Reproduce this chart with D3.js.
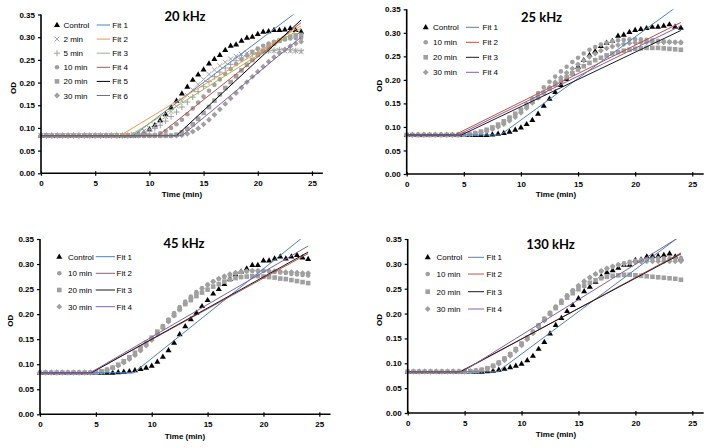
<!DOCTYPE html>
<html><head><meta charset="utf-8">
<script src="https://cdn.jsdelivr.net/npm/d3@7"></script>
<style>
body{margin:0;background:#fff;}
svg{display:block;font-family:"Liberation Sans",Arial,sans-serif;}
</style></head>
<body><svg id="chart" width="713" height="448"></svg>
<script>
// ---- data ----
const time = [0,0.5,1,1.5,2,2.5,3,3.5,4,4.5,5,5.5,6,6.5,7,7.5,8,8.5,9,9.5,10,10.5,11,11.5,12,12.5,13,13.5,14,14.5,15,15.5,16,16.5,17,17.5,18,18.5,19,19.5,20,20.5,21,21.5,22,22.5,23,23.5,24];
const xTicks = [0,5,10,15,20,25];
const yTicks = [0,0.05,0.10,0.15,0.20,0.25,0.30,0.35];
const titles = ["20 kHz","25 kHz","45 kHz","130 kHz"];
const names20 = ["Control","2 min","5 min","10 min","20 min","30 min"];
const namesOther = ["Control","10 min","20 min","30 min"];
const fitNames20 = ["Fit 1","Fit 2","Fit 3","Fit 4","Fit 5","Fit 6"];
const fitNamesOther = ["Fit 1","Fit 2","Fit 3","Fit 4"];

// 20 kHz
const control20 = [0.083,0.083,0.083,0.083,0.083,0.083,0.083,0.083,0.083,0.083,0.083,0.083,0.083,0.083,0.083,0.083,0.083,0.083,
 0.086,0.090,0.097,0.106,0.117,0.130,0.145,0.160,0.176,0.191,0.206,0.218,0.229,0.242,0.252,0.261,0.272,0.281,0.284,0.292,0.299,0.301,0.307,0.312,0.313,0.316,0.316,0.317,0.320,0.316,0.312];
const min2_20 = [0.083,0.083,0.083,0.083,0.083,0.083,0.083,0.083,0.083,0.083,0.083,0.083,0.083,0.083,0.083,0.083,
 0.084,0.086,0.089,0.093,0.099,0.106,0.115,0.125,0.136,0.148,0.160,0.172,0.184,0.196,0.207,0.218,0.228,0.237,0.245,0.252,0.258,0.262,0.265,0.267,0.268,0.270,0.270,0.270,0.271,0.270,0.270,0.270,0.268];
const min5_20 = [0.083,0.083,0.083,0.083,0.083,0.083,0.083,0.083,0.083,0.083,0.083,0.083,0.083,0.083,0.083,0.083,0.083,
 0.084,0.086,0.089,0.093,0.099,0.106,0.115,0.125,0.135,0.146,0.157,0.168,0.180,0.191,0.202,0.213,0.223,0.232,0.240,0.248,0.254,0.259,0.263,0.266,0.268,0.270,0.271,0.272,0.272,0.272,0.270,0.270];
const min10_20 = [0.083,0.083,0.083,0.083,0.083,0.083,0.083,0.083,0.083,0.083,0.083,0.083,0.083,0.083,0.083,0.083,0.083,0.083,0.083,0.083,0.083,
 0.085,0.088,0.093,0.100,0.108,0.118,0.130,0.143,0.156,0.169,0.182,0.195,0.207,0.219,0.230,0.241,0.251,0.260,0.268,0.275,0.281,0.286,0.290,0.293,0.295,0.297,0.298,0.298];
const min20_20 = [0.083,0.083,0.083,0.083,0.083,0.083,0.083,0.083,0.083,0.083,0.083,0.083,0.083,0.083,0.083,0.083,0.083,0.083,0.083,0.083,0.083,0.083,0.083,0.083,0.083,
 0.085,0.090,0.098,0.108,0.120,0.133,0.146,0.160,0.174,0.188,0.201,0.214,0.227,0.239,0.250,0.261,0.270,0.279,0.286,0.292,0.297,0.301,0.304,0.305];
const min30_20 = [0.083,0.083,0.083,0.083,0.083,0.083,0.083,0.083,0.083,0.083,0.083,0.083,0.083,0.083,0.083,0.083,0.083,0.083,0.083,0.083,0.083,0.083,0.083,0.083,0.083,0.083,
 0.084,0.087,0.092,0.099,0.108,0.118,0.129,0.141,0.153,0.165,0.177,0.189,0.201,0.213,0.224,0.235,0.246,0.256,0.265,0.273,0.280,0.286,0.290];
const fitLag20 = [8.5,7.3,8.2,10.8,12.5,13.0];
const fitEnd20 = [0.363,0.325,0.320,0.332,0.338,0.300];

// 25 kHz
const control25 = [0.083,0.083,0.083,0.083,0.083,0.083,0.083,0.083,0.083,0.083,0.083,0.083,0.083,0.083,
 0.083,0.084,0.0855,0.087,0.090,0.094,0.099,0.106,0.115,0.128,0.145,0.160,0.174,0.189,0.202,0.214,0.228,0.242,0.253,0.261,0.272,0.279,0.283,0.294,0.296,0.302,0.306,0.308,0.310,0.313,0.313,0.315,0.318,0.313,0.311];
const min10_25 = [0.083,0.083,0.083,0.083,0.083,0.083,0.083,0.083,0.083,0.083,
 0.084,0.085,0.087,0.089,0.092,0.097,0.103,0.110,0.118,0.127,0.137,0.148,0.160,0.172,0.184,0.196,0.207,0.218,0.228,0.238,0.247,0.256,0.264,0.270,0.275,0.279,0.282,0.284,0.285,0.286,0.286,0.286,0.285,0.284,0.283,0.282,0.281,0.280,0.279];
const min20_25 = [0.083,0.083,0.083,0.083,0.083,0.083,0.083,0.083,0.083,0.083,
 0.084,0.085,0.087,0.090,0.094,0.099,0.105,0.112,0.120,0.128,0.136,0.145,0.154,0.163,0.172,0.181,0.190,0.198,0.206,0.214,0.222,0.229,0.236,0.242,0.247,0.252,0.256,0.259,0.262,0.264,0.266,0.267,0.268,0.268,0.268,0.267,0.266,0.265,0.264];
const min30_25 = [0.083,0.083,0.083,0.083,0.083,0.083,0.083,0.083,0.083,0.083,
 0.084,0.085,0.086,0.088,0.091,0.095,0.100,0.106,0.113,0.121,0.130,0.140,0.151,0.162,0.173,0.184,0.195,0.205,0.215,0.224,0.233,0.241,0.249,0.256,0.262,0.267,0.271,0.274,0.276,0.278,0.279,0.280,0.280,0.280,0.280,0.280,0.280,0.280,0.280];
const fitLag25 = [8.2,4.2,4.8,4.5];
const fitEnd25 = [0.362,0.322,0.305,0.315];

// 45 kHz
const control45 = [0.083,0.083,0.083,0.083,0.083,0.083,0.083,0.083,0.083,0.083,0.083,0.083,0.083,
 0.083,0.084,0.085,0.086,0.088,0.0905,0.093,0.097,0.105,0.115,0.128,0.143,0.160,0.176,0.190,0.203,0.216,0.228,0.241,0.250,0.260,0.270,0.279,0.285,0.291,0.298,0.298,0.307,0.307,0.311,0.315,0.311,0.315,0.318,0.313,0.310];
const min10_45 = [0.083,0.083,0.083,0.083,0.083,0.083,0.083,0.083,0.083,0.083,
 0.084,0.086,0.089,0.093,0.098,0.104,0.111,0.119,0.128,0.139,0.151,0.163,0.176,0.189,0.202,0.214,0.225,0.235,0.244,0.252,0.259,0.265,0.270,0.274,0.278,0.281,0.284,0.285,0.286,0.286,0.286,0.285,0.284,0.283,0.282,0.280,0.279,0.278,0.277];
const min20_45 = [0.083,0.083,0.083,0.083,0.083,0.083,0.083,0.083,0.083,0.083,
 0.084,0.086,0.089,0.093,0.099,0.106,0.114,0.123,0.133,0.143,0.153,0.165,0.175,0.187,0.198,0.210,0.220,0.228,0.236,0.243,0.249,0.255,0.260,0.265,0.269,0.272,0.274,0.275,0.276,0.276,0.275,0.274,0.273,0.271,0.270,0.268,0.266,0.264,0.262];
const min30_45 = [0.083,0.083,0.083,0.083,0.083,0.083,0.083,0.083,0.083,0.083,
 0.084,0.085,0.088,0.092,0.097,0.103,0.110,0.118,0.127,0.137,0.148,0.160,0.172,0.185,0.197,0.209,0.221,0.232,0.242,0.251,0.258,0.265,0.271,0.276,0.280,0.283,0.285,0.286,0.287,0.287,0.287,0.286,0.286,0.285,0.284,0.284,0.283,0.282,0.282];
const fitLag45 = [8.4,4.6,4.6,4.5];
const fitEnd45 = [0.362,0.321,0.324,0.336];

// 130 kHz
const control130 = [0.083,0.083,0.083,0.083,0.083,0.083,0.083,0.083,0.083,0.083,0.083,0.083,0.083,0.083,
 0.084,0.085,0.087,0.089,0.092,0.095,0.099,0.106,0.115,0.129,0.143,0.160,0.177,0.191,0.205,0.217,0.231,0.245,0.254,0.264,0.275,0.283,0.287,0.292,0.298,0.298,0.308,0.309,0.315,0.316,0.316,0.318,0.321,0.315,0.311];
const min10_130 = [0.083,0.083,0.083,0.083,0.083,0.083,0.083,0.083,0.083,0.083,0.083,
 0.084,0.085,0.087,0.090,0.095,0.102,0.110,0.119,0.129,0.140,0.152,0.164,0.177,0.190,0.202,0.214,0.226,0.237,0.247,0.256,0.264,0.272,0.279,0.285,0.290,0.294,0.298,0.301,0.304,0.306,0.308,0.309,0.310,0.311,0.311,0.311,0.311,0.311];
const min20_130 = [0.083,0.083,0.083,0.083,0.083,0.083,0.083,0.083,0.083,0.083,0.083,
 0.084,0.085,0.087,0.090,0.095,0.101,0.109,0.118,0.128,0.139,0.151,0.163,0.176,0.189,0.200,0.211,0.222,0.232,0.241,0.249,0.256,0.262,0.267,0.271,0.274,0.276,0.277,0.278,0.278,0.277,0.276,0.275,0.274,0.273,0.272,0.271,0.270,0.268];
const min30_130 = [0.083,0.083,0.083,0.083,0.083,0.083,0.083,0.083,0.083,0.083,0.083,
 0.084,0.085,0.086,0.089,0.093,0.099,0.106,0.115,0.125,0.136,0.148,0.160,0.173,0.186,0.199,0.212,0.224,0.235,0.246,0.256,0.265,0.273,0.280,0.286,0.291,0.295,0.298,0.300,0.302,0.303,0.304,0.305,0.305,0.305,0.305,0.305,0.305,0.305];
const fitLag130 = [7.9,4.7,4.6,4.8];
const fitEnd130 = [0.357,0.322,0.320,0.356];

const fitBase = 0.083;
const fitStop = 24;

// ---- styles ----
const GREY = "#a0a0a0";
const fitColors20 = ["#4f81bd","#f79646","#9bbb59","#c0504d","#000000","#8064a2"];
const fitColorsOther = ["#4f81bd","#c0504d","#1a1a1a","#8064a2"];
const markers20 = ["tri","times","plus","circle","square","diamond"];
const markersOther = ["tri","circle","square","diamond"];

const panels = [
 {title:titles[0], series:[control20,min2_20,min5_20,min10_20,min20_20,min30_20], names:names20, markers:markers20,
  lag:fitLag20, end:fitEnd20, fitNames:fitNames20, colors:fitColors20,
  L:41, R:322.8, B:173.3, T:14.5, titleX:185, titleY:20.5, odX:13, timeX:182, timeY:196.5,
  leg:{mx:57, tx:63.5, ys:[25,39.1,53.2,67.3,81.4,95.5], l0:96.7, l1:110, ft:112.3}},
 {title:titles[1], series:[control25,min10_25,min20_25,min30_25], names:namesOther, markers:markersOther,
  lag:fitLag25, end:fitEnd25, fitNames:fitNamesOther, colors:fitColorsOther,
  L:406.7, R:703.7, B:174, T:9.3, titleX:541.5, titleY:22, odX:379, timeX:556, timeY:196.5,
  leg:{mx:425.7, tx:433, ys:[27.3,42.3,57.3,72.3], l0:466, l1:479, ft:482.5}},
 {title:titles[2], series:[control45,min10_45,min20_45,min30_45], names:namesOther, markers:markersOther,
  lag:fitLag45, end:fitEnd45, fitNames:fitNamesOther, colors:fitColorsOther,
  L:40, R:330.5, B:414.3, T:239, titleX:184, titleY:248, odX:10, timeX:185, timeY:438.5,
  leg:{mx:59.3, tx:68, ys:[256.7,273.3,290,306.7], l0:95.7, l1:115, ft:116.5}},
 {title:titles[3], series:[control130,min10_130,min20_130,min30_130], names:namesOther, markers:markersOther,
  lag:fitLag130, end:fitEnd130, fitNames:fitNamesOther, colors:fitColorsOther,
  L:407.7, R:703.7, B:413, T:239, titleX:550.5, titleY:249, odX:379, timeX:556, timeY:437,
  leg:{mx:427.7, tx:436.5, ys:[257.3,274,291.7,309], l0:468, l1:484, ft:486.5}}
];

const svg = d3.select("#chart");

function drawMarker(g, type, x, y){
  if(type==="tri"){
    g.append("path").attr("d",`M${x},${y-3.2}L${x+3},${y+2}L${x-3},${y+2}Z`).attr("fill","#000");
  } else if(type==="times"){
    g.append("path").attr("d",`M${x-2.4},${y-2.4}L${x+2.4},${y+2.4}M${x-2.4},${y+2.4}L${x+2.4},${y-2.4}`).attr("stroke",GREY).attr("stroke-width",1).attr("fill","none");
  } else if(type==="plus"){
    g.append("path").attr("d",`M${x-3},${y}H${x+3}M${x},${y-3}V${y+3}`).attr("stroke",GREY).attr("stroke-width",1).attr("fill","none");
  } else if(type==="circle"){
    g.append("circle").attr("cx",x).attr("cy",y).attr("r",2.3).attr("fill",GREY);
  } else if(type==="square"){
    g.append("rect").attr("x",x-2.3).attr("y",y-2.3).attr("width",4.6).attr("height",4.6).attr("fill",GREY);
  } else if(type==="diamond"){
    g.append("path").attr("d",`M${x},${y-2.9}L${x+2.9},${y}L${x},${y+2.9}L${x-2.9},${y}Z`).attr("fill",GREY);
  }
}

panels.forEach((p,pi)=>{
  const x = d3.scaleLinear().domain([0,26]).range([p.L,p.R]);
  const y = d3.scaleLinear().domain([0,0.35]).range([p.B,p.T]);
  const g = svg.append("g");

  const clipId = "clip"+pi;
  svg.append("clipPath").attr("id",clipId).append("rect")
    .attr("x",p.L).attr("y",p.T).attr("width",p.R-p.L).attr("height",p.B-p.T);

  // markers
  const mg = g.append("g");
  p.series.forEach((s,si)=>{
    s.forEach((v,i)=>{ if(i<time.length) drawMarker(mg,p.markers[si],x(time[i]),y(v)); });
  });

  // fit lines
  const line = d3.line().x(d=>x(d[0])).y(d=>y(d[1]));
  const lg = g.append("g").attr("clip-path",`url(#${clipId})`);
  p.lag.forEach((lag,fi)=>{
    const pts = [[0,fitBase],[lag,fitBase],[fitStop,p.end[fi]]];
    lg.append("path").attr("d",line(pts)).attr("fill","none")
      .attr("stroke",p.colors[fi]).attr("stroke-width",1);
  });

  // y axis
  const ya = g.append("g").attr("transform",`translate(${p.L},0)`)
    .call(d3.axisLeft(y).tickValues(yTicks).tickFormat(d3.format(".2f")).tickSize(3).tickPadding(3));
  ya.select(".domain").attr("stroke","#000").attr("stroke-width",1.6).attr("d",`M0,${p.B}V${p.T}`);
  ya.selectAll("text").attr("font-size",8).attr("font-weight","bold").attr("fill","#000").attr("font-family","Liberation Sans, Arial, sans-serif");
  ya.selectAll("line").attr("stroke","#000").attr("stroke-width",1.2);

  // x axis
  const xa = g.append("g").attr("transform",`translate(0,${p.B})`)
    .call(d3.axisBottom(x).tickValues(xTicks).tickFormat(d3.format("d")).tickSize(3).tickPadding(4));
  xa.select(".domain").attr("stroke","#000").attr("stroke-width",1.6).attr("d",`M${p.L},0H${p.R}`);
  xa.selectAll(".tick line").attr("stroke","#000").attr("stroke-width",1.2).attr("y1",-2).attr("y2",2.5);
  xa.selectAll("text").attr("font-size",8).attr("font-weight","bold").attr("fill","#000").attr("font-family","Liberation Sans, Arial, sans-serif");

  // titles
  g.append("text").attr("x",p.titleX).attr("y",p.titleY).attr("text-anchor","middle")
    .attr("font-family","Lato, Open Sans, sans-serif").attr("font-weight","bold").attr("font-size",13).text(p.title);
  g.append("text").attr("x",p.timeX).attr("y",p.timeY).attr("text-anchor","middle")
    .attr("font-weight","bold").attr("font-size",8).text("Time (min)");
  const cy = (p.T+p.B)/2 - 6;
  g.append("text").attr("transform",`translate(${p.odX+3},${cy}) rotate(-90)`).attr("text-anchor","middle")
    .attr("font-weight","bold").attr("font-size",8).text("OD");

  // legend
  const leg = g.append("g");
  p.names.forEach((n,i)=>{
    const yy = p.leg.ys[i];
    drawMarker(leg,p.markers[i],p.leg.mx,yy);
    leg.append("text").attr("x",p.leg.tx).attr("y",yy+3).attr("font-size",8).text(n);
    leg.append("line").attr("x1",p.leg.l0).attr("x2",p.leg.l1).attr("y1",yy).attr("y2",yy)
      .attr("stroke",p.colors[i]).attr("stroke-width",1);
    leg.append("text").attr("x",p.leg.ft).attr("y",yy+3).attr("font-size",8).text(p.fitNames[i]);
  });
});
</script>
</body></html>
